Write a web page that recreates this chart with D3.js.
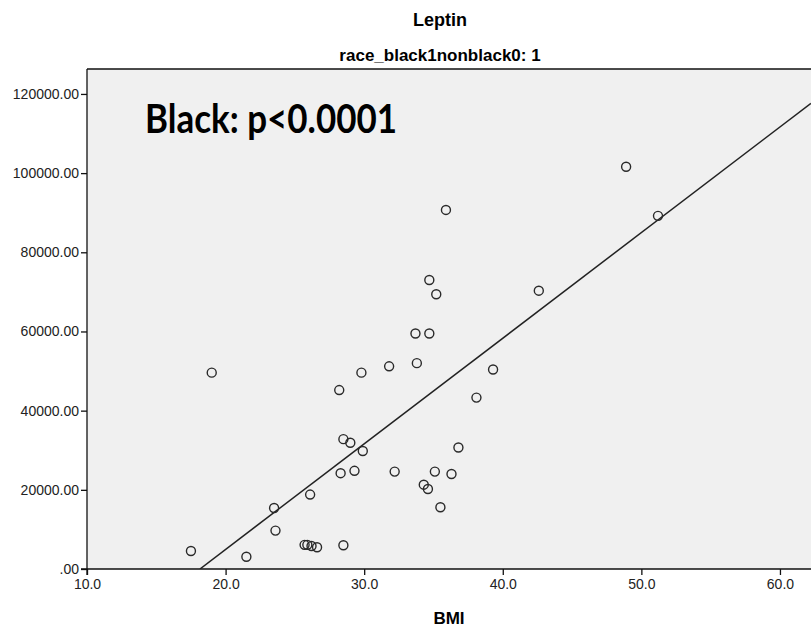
<!DOCTYPE html>
<html><head>
<meta charset="utf-8">
<script src="https://cdnjs.cloudflare.com/ajax/libs/d3/7.8.5/d3.min.js"></script>
<style>
  body { margin: 0; background: white; }
  svg { display: block; }
  .tick text { font-family: "Liberation Sans", Arial, sans-serif; font-size: 14px; fill: #222; }
</style>
</head>
<body>
<svg id="chart" width="811" height="628"></svg>
<script>
// values
let bmi = [17.5, 21.5, 19.0, 23.5, 23.6, 26.1, 25.7, 25.9, 26.2, 26.6,
           28.5, 28.3, 28.2, 28.5, 29.0, 29.3, 29.9, 29.8, 31.8, 32.2,
           33.7, 34.7, 33.8, 34.3, 34.6, 35.1, 35.5, 36.3, 36.8, 38.1,
           39.3, 34.7, 35.2, 35.9, 42.6, 48.9, 51.2];
let leptin = [4550, 3100, 49600, 15400, 9700, 18800, 6100, 6100, 5800, 5500,
              6000, 24200, 45200, 32800, 31900, 24800, 29800, 49600, 51200, 24600,
              59500, 59500, 52000, 21300, 20200, 24600, 15600, 24000, 30700, 43300,
              50400, 73000, 69400, 90700, 70300, 101600, 89200];
let xTicks = [10, 20, 30, 40, 50, 60];
let yTicks = [0, 20000, 40000, 60000, 80000, 100000, 120000];
// fit line
let fitIntercept = -48420;
let fitSlope = 2668;

let svg = d3.select("#chart");
let plotL = 87, plotR = 811, plotT = 69, plotB = 569;

let x = d3.scaleLinear().domain([10, 62.24]).range([plotL, plotR]);
let y = d3.scaleLinear().domain([0, 126300]).range([plotB, plotT]);

// titles
svg.append("text")
  .attr("x", 440).attr("y", 26)
  .attr("text-anchor", "middle")
  .style("font-family", "Liberation Sans, Arial, sans-serif")
  .style("font-weight", "bold").style("font-size", "18px")
  .text("Leptin");
svg.append("text")
  .attr("x", 440).attr("y", 61)
  .attr("text-anchor", "middle")
  .style("font-family", "Liberation Sans, Arial, sans-serif")
  .style("font-weight", "bold").style("font-size", "17px")
  .text("race_black1nonblack0: 1");

// plot background
svg.append("rect")
  .attr("x", plotL).attr("y", plotT)
  .attr("width", plotR - plotL + 10).attr("height", plotB - plotT)
  .style("fill", "#f0f0f0");

svg.append("clipPath").attr("id", "plotclip")
  .append("rect")
  .attr("x", plotL).attr("y", plotT)
  .attr("width", plotR - plotL).attr("height", plotB - plotT);

// top border
svg.append("line")
  .attr("x1", plotL).attr("x2", plotR + 5)
  .attr("y1", plotT).attr("y2", plotT)
  .style("stroke", "#111").style("stroke-width", 1.3);

// axes
let yAxis = d3.axisLeft(y).tickValues(yTicks).tickSize(6).tickPadding(2)
  .tickFormat(d => d === 0 ? ".00" : d3.format(".2f")(d));
let gy = svg.append("g").attr("transform", `translate(${plotL},0)`).call(yAxis);
gy.select(".domain").remove();
svg.append("line")
  .attr("x1", plotL).attr("x2", plotL)
  .attr("y1", plotT).attr("y2", plotB + 6)
  .style("stroke", "#111").style("stroke-width", 1.3);

let xAxis = d3.axisBottom(x).tickValues(xTicks).tickSize(6).tickPadding(4)
  .tickFormat(d3.format(".1f"));
let gx = svg.append("g").attr("transform", `translate(0,${plotB})`).call(xAxis);
gx.select(".domain").remove();
svg.append("line")
  .attr("x1", plotL - 6).attr("x2", plotR + 5)
  .attr("y1", plotB).attr("y2", plotB)
  .style("stroke", "#111").style("stroke-width", 1.3);
svg.selectAll(".tick line").style("stroke", "#111").style("stroke-width", 1.3);

svg.append("text")
  .attr("x", 449).attr("y", 624)
  .attr("text-anchor", "middle")
  .style("font-family", "Liberation Sans, Arial, sans-serif")
  .style("font-weight", "bold").style("font-size", "17px")
  .text("BMI");

// regression line
let x0 = -fitIntercept / fitSlope;
let x1 = x.domain()[1];
svg.append("line")
  .attr("clip-path", "url(#plotclip)")
  .attr("x1", x(x0)).attr("y1", y(0))
  .attr("x2", x(x1)).attr("y2", y(fitIntercept + fitSlope * x1))
  .style("stroke", "#222").style("stroke-width", 1.5);

// points
svg.append("g").selectAll("circle")
  .data(bmi)
  .join("circle")
  .attr("cx", d => x(d))
  .attr("cy", (d, i) => y(leptin[i]))
  .attr("r", 4.5)
  .style("fill", "none")
  .style("stroke", "#2a2a2a")
  .style("stroke-width", 1.4);

// annotation
svg.append("text")
  .attr("x", 145).attr("y", 133)
  .attr("textLength", 252).attr("lengthAdjust", "spacingAndGlyphs")
  .style("font-family", "Lato, 'Open Sans', sans-serif")
  .style("font-weight", "bold").style("font-size", "41px")
  .text("Black: p<0.0001");
</script>
</body>
</html>
